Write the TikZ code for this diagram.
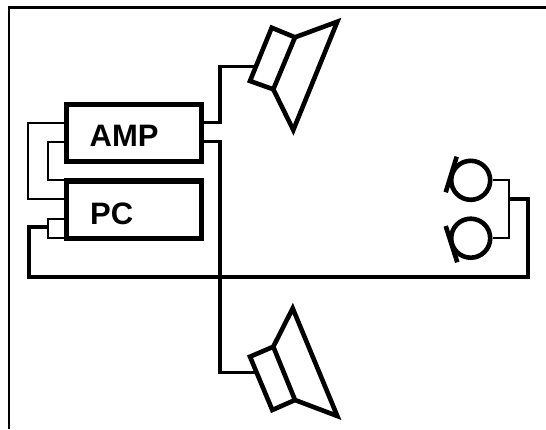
\documentclass[tikz,border=0pt]{standalone}
\usepackage{fontspec}
\setmainfont{Liberation Sans}
\begin{document}
\begin{tikzpicture}[x=1pt,y=-1pt,
  framestyle/.style={line width=2.2pt},
  unitbox/.style={draw,line width=5.2pt,rectangle,inner sep=0pt,minimum width=135pt,minimum height=57.4pt},
  unitlabel/.style={font=\bfseries\fontsize{31}{31}\selectfont,anchor=base west,inner sep=0pt},
  thinwire/.style={line width=1.8pt},
  midwire/.style={line width=3.4pt,line join=miter},
  thickwire/.style={line width=3.8pt,line join=miter},
  hardware/.style={line width=4.6pt,line join=miter},
  micro/.style={draw,circle,line width=4.6pt,inner sep=0pt,minimum size=39pt}]
\useasboundingbox (0,0) rectangle (546,429);
\draw[framestyle] (9,429) -- (9,7.5) -- (546,7.5);

% units
\node[unitbox] (amp) at (134,133) {};
\node[unitbox] (pc) at (134,209.7) {};
\node[unitlabel] (amptext) at (89.5,146.7) {AMP};
\node[unitlabel] (pctext) at (90,224) {PC};

% coordinates on the units
\coordinate (ampL1) at (64,123.3);
\coordinate (ampL2) at (64,142.3);
\coordinate (pcL1) at (64,180);
\coordinate (pcL2) at (64,199.3);
\coordinate (pcL3) at (64,219);
\coordinate (pcL4) at (64,238.3);
\coordinate (ampR1) at (204,122.7);
\coordinate (ampR2) at (204,141.7);
\coordinate (jackT) at (48,227);

% amp - pc wires
\draw[thinwire] (ampL1) -| (28.3,199.3) -- (pcL2);
\draw[thinwire] (ampL2) -| (48,180) -- (pcL1);
\draw[thinwire] (pcL3) -| (48,238.3) -- (pcL4);

% top speaker
\coordinate (spkT) at (255,66.3);
\draw[midwire] (ampR1) -| (220,66.3) -- (spkT);
\draw[hardware] (295,37.3) -- (271.7,27.7) -- (250,81) -- (273.3,89.3) -- cycle;
\draw[hardware] (295,37.3) -- (337.3,21.7) -- (293.3,130) -- (273.3,89.3);

% bottom speaker
\coordinate (spkB) at (255,372.3);
\draw[midwire] (ampR2) -| (220,372.3) -- (spkB);
\draw[hardware] (273.3,346.7) -- (250,356.7) -- (272.3,410) -- (295,400) -- cycle;
\draw[hardware] (273.3,346.7) -- (292.7,308.3) -- (337.3,416) -- (295,400);

% microphones
\node[micro] (micA) at (470.7,180.3) {};
\node[micro] (micB) at (470.7,238.2) {};
\draw[hardware] (456.7,156.7) -- (445.7,192.3);
\draw[hardware] (445.7,226) -- (457.3,262.3);
\coordinate (micJ) at (509,199.3);
\draw[thinwire] (micA.east) -| (509,238.2) -- (micB.east);

% return line
\draw[thickwire] (jackT) -| (29,276.7) -| (528,199.3) -- (micJ);
\end{tikzpicture}
\end{document}
